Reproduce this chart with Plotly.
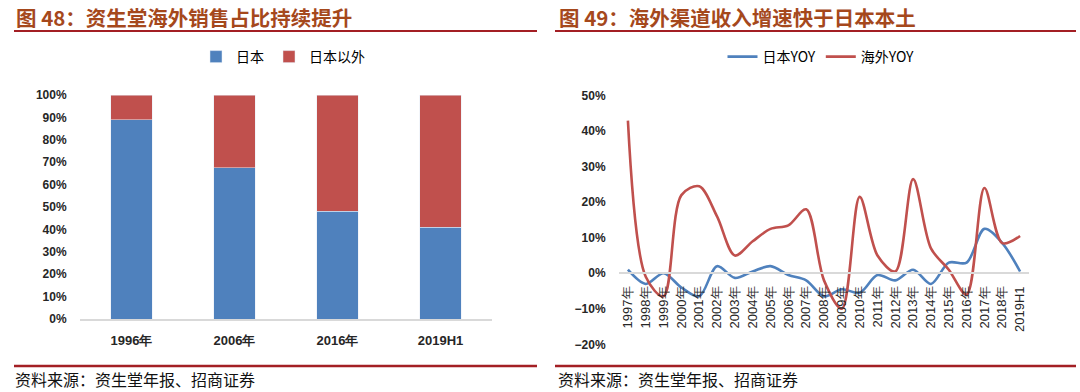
import plotly.graph_objects as go

# ---------------- data ----------------
bar_categories = ["1996年", "2006年", "2016年", "2019H1"]
japan_share = [0.89, 0.675, 0.48, 0.41]
overseas_share = [0.11, 0.325, 0.52, 0.59]

years = ["1997年", "1998年", "1999年", "2000年", "2001年", "2002年", "2003年", "2004年",
         "2005年", "2006年", "2007年", "2008年", "2009年", "2010年", "2011年", "2012年",
         "2013年", "2014年", "2015年", "2016年", "2017年", "2018年", "2019H1"]
japan_yoy = [0.01, -0.03, 0.0, -0.04, -0.065, 0.02, -0.013, 0.005, 0.02, -0.005, -0.02, -0.065,
             -0.045, -0.055, -0.005, -0.02, 0.01, -0.03, 0.03, 0.03, 0.125, 0.085, 0.005]
overseas_yoy = [0.43, -0.01, -0.065, 0.22, 0.245, 0.16, 0.05, 0.09, 0.125, 0.135, 0.18, -0.02,
                -0.10, 0.215, 0.05, 0.005, 0.265, 0.07, 0.01, -0.06, 0.24, 0.085, 0.105]

left_ticks = [0, 0.1, 0.2, 0.3, 0.4, 0.5, 0.6, 0.7, 0.8, 0.9, 1.0]
right_ticks = [-0.2, -0.1, 0, 0.1, 0.2, 0.3, 0.4, 0.5]

BLUE = "#4F81BD"
RED = "#C0504D"
TITLE_C = "#A5481C"
RULE_C = "#A31F24"
TXT = "#262626"
W, H = 1080, 392

def px(x):
    return x / W

def py(y):
    return 1 - y / H

fig = go.Figure()

# ---------------- left chart ----------------
fig.add_trace(go.Bar(x=bar_categories, y=japan_share, name="日本", marker_color=BLUE,
                     width=0.4, xaxis="x", yaxis="y", legend="legend"))
fig.add_trace(go.Bar(x=bar_categories, y=overseas_share, name="日本以外", marker_color=RED,
                     width=0.4, xaxis="x", yaxis="y", legend="legend"))

# ---------------- right chart ----------------
fig.add_trace(go.Scatter(x=years, y=japan_yoy, name="日本YOY", mode="lines",
                         line=dict(color=BLUE, width=2.6, shape="spline", smoothing=0.9),
                         xaxis="x2", yaxis="y2", legend="legend2"))
fig.add_trace(go.Scatter(x=years, y=overseas_yoy, name="海外YOY", mode="lines",
                         line=dict(color=RED, width=2.6, shape="spline", smoothing=0.9),
                         xaxis="x2", yaxis="y2", legend="legend2"))

ly0, ly1 = py(319), py(95)
ry0, ry1 = py(344.3), py(95.7)
rmin, rmax = -0.2, 0.5
zero_pos = ry0 + (0 - rmin) / (rmax - rmin) * (ry1 - ry0)

tickfont = dict(family="Liberation Sans, Arial", size=12, color=TXT, weight="bold")

fig.update_layout(
    width=W, height=H, margin=dict(l=0, r=0, t=0, b=0, autoexpand=False),
    paper_bgcolor="white", plot_bgcolor="white",
    barmode="stack", bargap=0.6,
    xaxis=dict(domain=[px(80), px(492)], anchor="y", showline=True, linecolor="#D9D9D9",
               linewidth=1.5, showgrid=False, ticks="outside", ticklen=9,
               tickcolor="rgba(0,0,0,0)",
               tickfont=dict(family="Liberation Sans, Arial", size=13, color=TXT, weight="bold"),
               fixedrange=True),
    yaxis=dict(domain=[ly0, ly1], range=[0, 1.0], tickvals=left_ticks, tickformat=".0%",
               showgrid=False, showline=False, zeroline=False, ticks="outside", ticklen=10,
               tickcolor="rgba(0,0,0,0)", tickfont=tickfont),
    xaxis2=dict(domain=[px(619), px(1029)], anchor="free", position=zero_pos, showline=True,
                linecolor="#D9D9D9", linewidth=2, showgrid=False, tickangle=-90,
                ticks="outside", ticklen=7, tickcolor="rgba(0,0,0,0)",
                tickfont=dict(family="Liberation Sans, Arial", size=13, color=TXT),
                range=[-0.5, len(years) - 0.5]),
    yaxis2=dict(domain=[ry0, ry1], range=[rmin, rmax], tickvals=right_ticks, tickformat=".0%",
                anchor="x2", showgrid=False, showline=False, zeroline=False, ticks="outside",
                ticklen=10, tickcolor="rgba(0,0,0,0)", tickfont=tickfont),
    legend=dict(orientation="h", x=px(283), y=py(57), xanchor="center", yanchor="middle",
                font=dict(family="Noto Sans CJK SC", size=14, color="#000"),
                traceorder="normal", itemwidth=30, bgcolor="rgba(0,0,0,0)"),
    legend2=dict(orientation="h", x=px(821), y=py(57), xanchor="center", yanchor="middle",
                 font=dict(family="Noto Sans CJK SC", size=14, color="#000"),
                 traceorder="normal", bgcolor="rgba(0,0,0,0)"),
    showlegend=True,
)

# titles
fig.add_annotation(text="图 48：资生堂海外销售占比持续提升", x=px(14), y=py(17), xref="paper", yref="paper",
                   xanchor="left", yanchor="middle", showarrow=False,
                   font=dict(family="Noto Sans CJK SC", size=20.5, color=TITLE_C, weight="bold"))
fig.add_annotation(text="图 49：海外渠道收入增速快于日本本土", x=px(557), y=py(17), xref="paper", yref="paper",
                   xanchor="left", yanchor="middle", showarrow=False,
                   font=dict(family="Noto Sans CJK SC", size=20.5, color=TITLE_C, weight="bold"))
# footers
for x0 in (14, 557):
    fig.add_annotation(text="资料来源：资生堂年报、招商证券", x=px(x0), y=py(379), xref="paper", yref="paper",
                       xanchor="left", yanchor="middle", showarrow=False, borderpad=0,
                       font=dict(family="Noto Sans CJK SC", size=16, color="#111"))

# rules
for (x0, x1) in ((14, 537), (555, 1076)):
    fig.add_shape(type="line", xref="paper", yref="paper", x0=px(x0), x1=px(x1), y0=py(31), y1=py(31),
                  line=dict(color=RULE_C, width=2))
    fig.add_shape(type="line", xref="paper", yref="paper", x0=px(x0), x1=px(x1), y0=py(366), y1=py(366),
                  line=dict(color=RULE_C, width=2.5))

fig.write_html("out.html")
